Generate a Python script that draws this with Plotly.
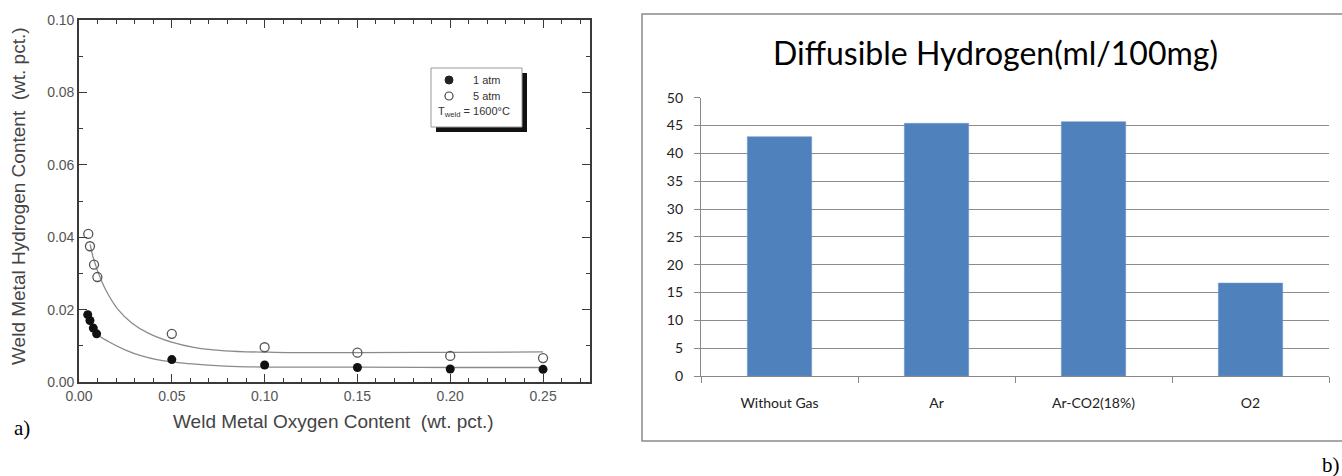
import plotly.graph_objects as go

W, H = 1342, 476

# ---------------- data: panel a) ----------------
x_1atm = [0.0047, 0.0059, 0.0077, 0.0095, 0.05, 0.10, 0.15, 0.20, 0.25]
h_1atm = [0.0186, 0.0170, 0.0149, 0.0133, 0.0062, 0.0047, 0.0040, 0.0036, 0.0035]
x_5atm = [0.0050, 0.0059, 0.0081, 0.0099, 0.05, 0.10, 0.15, 0.20, 0.25]
h_5atm = [0.0409, 0.0375, 0.0324, 0.0290, 0.0133, 0.0096, 0.0081, 0.0072, 0.0066]

# fitted curves
fit5_x = [0.0060, 0.0077, 0.0122, 0.0158, 0.0212, 0.0284, 0.0373, 0.0499, 0.0625, 0.0787, 0.1056, 0.15, 0.20, 0.25]
fit5_y = [0.0380, 0.0343, 0.0278, 0.0241, 0.0199, 0.0163, 0.0135, 0.0110, 0.0095, 0.0086, 0.0082, 0.0081, 0.0082, 0.0083]
fit1_x = [0.0050, 0.0077, 0.0095, 0.0158, 0.0248, 0.0338, 0.0427, 0.0500, 0.0607, 0.0787, 0.1056, 0.15, 0.20, 0.25]
fit1_y = [0.0180, 0.0150, 0.0133, 0.0112, 0.0089, 0.0072, 0.0061, 0.0056, 0.0050, 0.0044, 0.0041, 0.0041, 0.0040, 0.0040]

x_ticks_a = [0.00, 0.05, 0.10, 0.15, 0.20, 0.25]
y_ticks_a = [0.00, 0.02, 0.04, 0.06, 0.08, 0.10]

# ---------------- data: panel b) ----------------
gases = ["Without Gas", "Ar", "Ar-CO2(18%)", "O2"]
diff_h = [43.0, 45.4, 45.7, 16.7]
y_ticks_b = [0, 5, 10, 15, 20, 25, 30, 35, 40, 45, 50]


def px(x):
    return x / W


def py(y):
    return 1 - y / H


fig = go.Figure()

ink = "#3a3a3a"
curve = "#8a8a8a"

fig.add_trace(go.Scatter(x=fit5_x, y=fit5_y, mode="lines", line=dict(color=curve, width=1.3, shape="spline"),
                         xaxis="x", yaxis="y", showlegend=False, hoverinfo="skip"))
fig.add_trace(go.Scatter(x=fit1_x, y=fit1_y, mode="lines", line=dict(color=curve, width=1.3, shape="spline"),
                         xaxis="x", yaxis="y", showlegend=False, hoverinfo="skip"))
fig.add_trace(go.Scatter(x=x_5atm, y=h_5atm, mode="markers",
                         marker=dict(symbol="circle-open", size=9, color="#555", line=dict(width=1.3)),
                         xaxis="x", yaxis="y", name="5 atm", showlegend=False))
fig.add_trace(go.Scatter(x=x_1atm, y=h_1atm, mode="markers",
                         marker=dict(symbol="circle", size=9, color="#111"),
                         xaxis="x", yaxis="y", name="1 atm", showlegend=False))

fig.add_trace(go.Bar(x=gases, y=diff_h, marker=dict(color="#4F81BD", line=dict(color="#6f97c9", width=0.5)),
                     width=0.41, xaxis="x2", yaxis="y2", showlegend=False))

afont = dict(family="Liberation Sans, Arial", size=14, color="#555")
bfont = dict(family="Lato, Calibri, sans-serif", size=14, color="#222")

fig.update_layout(
    width=W, height=H, margin=dict(l=0, r=0, t=0, b=0, pad=0, autoexpand=False), autosize=False,
    paper_bgcolor="white", plot_bgcolor="white",
    xaxis=dict(domain=[px(79), px(590)], range=[0, 0.2753], tickvals=x_ticks_a, tickformat=".2f",
               ticks="inside", ticklen=8, tickwidth=1.2, tickcolor=ink,
               minor=dict(dtick=0.01, tick0=0, ticks="inside", ticklen=4, tickcolor=ink),
               showline=True, linecolor=ink, linewidth=1.6, mirror="ticks", showgrid=False, zeroline=False,
               tickfont=afont, anchor="y", fixedrange=True, automargin=False),
    yaxis=dict(domain=[py(382), py(20)], range=[0, 0.1], tickvals=y_ticks_a, tickformat=".2f",
               ticks="inside", ticklen=8, tickwidth=1.2, tickcolor=ink,
               minor=dict(dtick=0.01, tick0=0, ticks="inside", ticklen=4, tickcolor=ink),
               showline=True, linecolor=ink, linewidth=1.6, mirror="ticks", showgrid=False, zeroline=False,
               tickfont=afont, anchor="x", fixedrange=True, automargin=False),
    xaxis2=dict(domain=[px(701), px(1329)], type="category", tickson="boundaries", ticks="outside",
                ticklen=6, tickcolor="#888", showline=True, linecolor="#888", linewidth=1.3,
                showgrid=False, zeroline=False, tickfont=bfont, anchor="y2", ticklabelstandoff=14,
                automargin=False, fixedrange=True),
    yaxis2=dict(domain=[py(376), py(97.7)], range=[0, 50], tickvals=y_ticks_b, ticks="outside",
                ticklen=6, tickcolor="#888", showline=True, linecolor="#888", linewidth=1.3,
                showgrid=True, gridcolor="#8c8c8c", gridwidth=1.2, zeroline=False,
                tickfont=bfont, anchor="x2", automargin=False, ticklabelstandoff=8, fixedrange=True),
    bargap=0.59,
)

shapes = []
# outer frame of panel b)
shapes.append(dict(type="rect", xref="paper", yref="paper", x0=px(642), x1=px(1350), y0=py(441), y1=py(14),
                   line=dict(color="#8a8a8a", width=1.5), fillcolor="rgba(0,0,0,0)", layer="below"))
# legend box of panel a) with shadow
shapes.append(dict(type="rect", xref="paper", yref="paper", x0=px(436), x1=px(527), y0=py(132), y1=py(73),
                   line=dict(color="#111", width=0), fillcolor="#111", layer="above"))
shapes.append(dict(type="rect", xref="paper", yref="paper", x0=px(431), x1=px(522), y0=py(127), y1=py(68),
                   line=dict(color="#999", width=1), fillcolor="white", layer="above"))
# legend symbols
shapes.append(dict(type="circle", xref="paper", yref="paper", x0=px(445), x1=px(453), y0=py(84), y1=py(76),
                   line=dict(color="#222", width=1), fillcolor="#222", layer="above"))
shapes.append(dict(type="circle", xref="paper", yref="paper", x0=px(445), x1=px(453), y0=py(100), y1=py(92),
                   line=dict(color="#444", width=1.2), fillcolor="white", layer="above"))
fig.update_layout(shapes=shapes)


def note(text, x, y, font, angle=0):
    return dict(text=text, x=px(x), y=py(y), xref="paper", yref="paper", showarrow=False,
                xanchor="center", yanchor="middle", textangle=angle, font=font)


ann = []
lf = dict(family="Liberation Sans, Arial", size=11, color="#333")
ann.append(note("1 atm", 487, 80, lf))
ann.append(note("5 atm", 487, 96, lf))
ann.append(note("T<sub>weld</sub> = 1600°C", 474, 112, lf))
# axis titles panel a)
tf = dict(family="Liberation Sans, Arial", size=19, color="#444")
ann.append(note("Weld Metal Hydrogen Content  (wt. pct.)", 18, 196, tf, angle=-90))
ann.append(note("Weld Metal Oxygen Content  (wt. pct.)", 333, 421, tf))
# panel labels
pf = dict(family="Liberation Serif, Times New Roman", size=21, color="#000")
ann.append(note("a)", 22, 428, pf))
ann.append(note("b)", 1331, 465, pf))
# title panel b)
ann.append(note("Diffusible Hydrogen(ml/100mg)", 995, 52, dict(family="Lato, Calibri, sans-serif", size=32, color="#000")))
fig.update_layout(annotations=ann)

fig.write_html("out.html", config={"displayModeBar": False},
               post_script="document.body.style.margin='0px';document.body.style.padding='0px';")
